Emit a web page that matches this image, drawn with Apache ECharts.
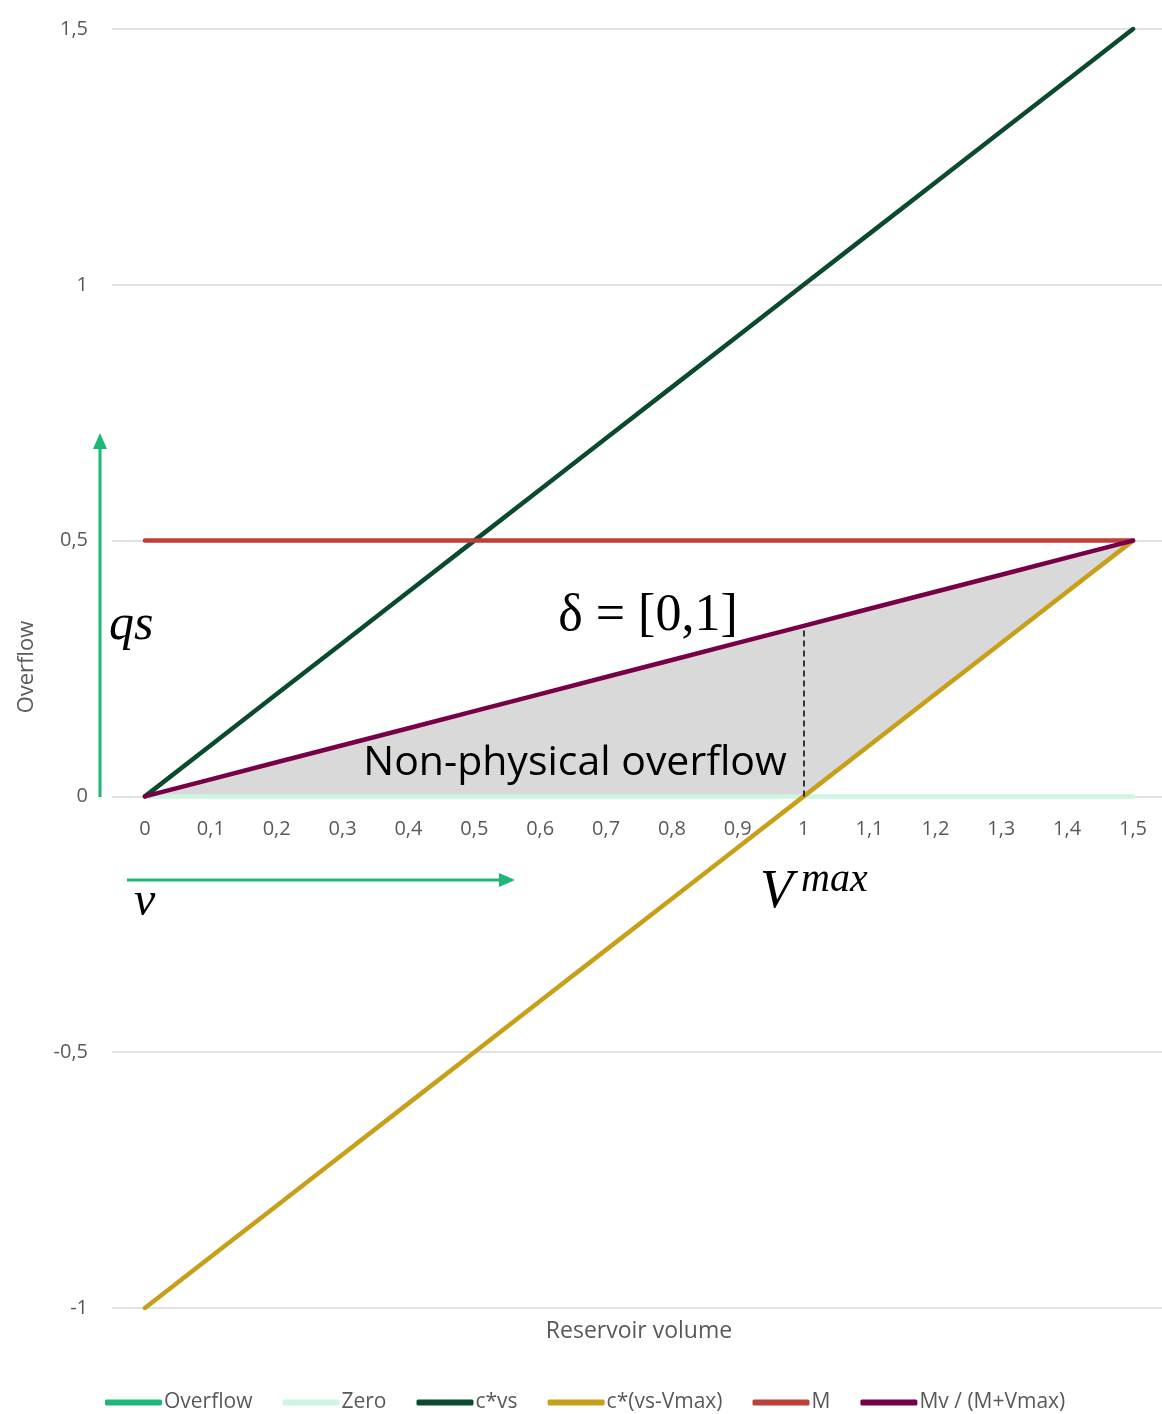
<!DOCTYPE html>
<html>
<head>
<meta charset="utf-8">
<script src="https://cdn.jsdelivr.net/npm/echarts@6/dist/echarts.min.js"></script>
<style>
  html, body { margin: 0; padding: 0; background: #fff; }
  #chart { width: 1162px; height: 1414px; }
</style>
</head>
<body>
<div id="chart"></div>
<script>
// Reservoir volume (x values, also the x tick labels)
const volumes = [0,0.1,0.2,0.3,0.4,0.5,0.6,0.7,0.8,0.9,1,1.1,1.2,1.3,1.4,1.5];

// Series values
const overflow = [];
const zero = [0,0,0,0,0,0,0,0,0,0,0,0,0,0,0,0];
const cVs = [0,0.1,0.2,0.3,0.4,0.5,0.6,0.7,0.8,0.9,1,1.1,1.2,1.3,1.4,1.5];
const cVsMinusVmax = [-1,-0.9,-0.8,-0.7,-0.6,-0.5,-0.4,-0.3,-0.2,-0.1,0,0.1,0.2,0.3,0.4,0.5];
const mConst = [0.5,0.5,0.5,0.5,0.5,0.5,0.5,0.5,0.5,0.5,0.5,0.5,0.5,0.5,0.5,0.5];
const mvRatio = [0,0.0333,0.0667,0.1,0.1333,0.1667,0.2,0.2333,0.2667,0.3,0.3333,0.3667,0.4,0.4333,0.4667,0.5];

// Lower edge of the shaded non-physical region: max(0, c*(vs-Vmax))
const shadeBase = [0,0,0,0,0,0,0,0,0,0,0,0.1,0.2,0.3,0.4,0.5];

// Y axis ticks
const yMin = -1, yMax = 1.5, yStep = 0.5;

const C = {
  overflow: '#1cb877',
  zero: '#cdf5e1',
  cvs: '#0b4a2c',
  gold: '#c89f18',
  m: '#bd3f3a',
  mv: '#780049',
  grid: '#d9d9d9',
  text: '#595959'
};
const sans = '"Open Sans", Lato, sans-serif';
const serif = '"Liberation Serif", "DejaVu Serif", serif';
const comma = v => String(+v.toFixed(2)).replace('.', ',');

const pairs = arr => volumes.map((x, i) => [x, arr[i]]);

const lineSeries = (name, data, color, z) => ({
  name, type: 'line', data: pairs(data), symbol: 'none', z,
  lineStyle: { color, width: 4.5, cap: 'round', join: 'round' },
  itemStyle: { color },
  emphasis: { disabled: true }
});

const chart = echarts.init(document.getElementById('chart'), null, { renderer: 'canvas' });

// plot area: y from -1 (bottom) to 1.5 (top); the x labels sit under the zero line
const gridTop = 29, gridBottom = 106, plotH = 1414 - gridTop - gridBottom;
const zeroOffset = -Math.round(plotH * (0 - yMin) / (yMax - yMin));

chart.setOption({
  animation: false,
  backgroundColor: '#fff',
  grid: { left: 112, right: 0, top: gridTop, bottom: gridBottom, containLabel: false },
  xAxis: {
    type: 'value',
    // half a step of padding on the left, the plot runs on to the right edge
    min: -0.05, max: 1.544,
    offset: zeroOffset,
    axisLine: { show: false, onZero: false },
    axisTick: { show: false },
    axisLabel: {
      color: C.text, fontSize: 20, fontFamily: sans, margin: 23,
      customValues: volumes, formatter: comma
    },
    splitLine: { show: false }
  },
  yAxis: {
    type: 'value',
    min: yMin, max: yMax, interval: yStep,
    axisLine: { show: false },
    axisTick: { show: false },
    axisLabel: { color: C.text, fontSize: 20, fontFamily: sans, margin: 24, formatter: comma },
    splitLine: { lineStyle: { color: C.grid, width: 1.5 } }
  },
  legend: {
    data: ['Overflow', 'Zero', 'c*vs', 'c*(vs-Vmax)', 'M', 'Mv / (M+Vmax)'],
    left: 100, top: 1387,
    itemWidth: 57, itemHeight: 6, itemGap: 30,
    icon: 'roundRect',
    textStyle: { color: C.text, fontSize: 21, fontFamily: sans, padding: [0, 0, 0, -3] },
    selectedMode: false
  },
  graphic: [
    // axis titles
    { type: 'text', x: 27, y: 667, rotation: Math.PI / 2,
      style: { text: 'Overflow', fill: C.text, font: '22px ' + sans, align: 'center', verticalAlign: 'middle' } },
    { type: 'text', x: 639, y: 1331,
      style: { text: 'Reservoir volume', fill: C.text, font: '23px ' + sans, align: 'center', verticalAlign: 'middle' } },
    // vertical qs arrow
    { type: 'line', shape: { x1: 100, y1: 797, x2: 100, y2: 446 }, style: { stroke: C.overflow, lineWidth: 3 } },
    { type: 'polygon', shape: { points: [[100, 433], [93, 449], [107, 449]] }, style: { fill: C.overflow } },
    // horizontal v arrow
    { type: 'line', shape: { x1: 127, y1: 880, x2: 503, y2: 880 }, style: { stroke: C.overflow, lineWidth: 3 } },
    { type: 'polygon', shape: { points: [[515, 880], [499, 873], [499, 887]] }, style: { fill: C.overflow } },
    // annotations
    { type: 'text', x: 109, y: 626, z: 10,
      style: { text: 'qs', fill: '#000', font: 'italic 50px ' + serif, verticalAlign: 'middle' } },
    { type: 'text', x: 648, y: 616, z: 10,
      style: { text: 'δ = [0,1]', fill: '#000', font: '52px ' + serif, align: 'center', verticalAlign: 'middle' } },
    { type: 'text', x: 575, y: 763, z: 10,
      style: { text: 'Non-physical overflow', fill: '#000', font: '41px ' + sans, align: 'center', verticalAlign: 'middle' } },
    { type: 'text', x: 134, y: 902, z: 10,
      style: { text: 'v', fill: '#000', font: 'italic 48px ' + serif, verticalAlign: 'middle' } },
    { type: 'text', x: 760, y: 893, z: 10,
      style: { text: 'V', fill: '#000', font: 'italic 54px ' + serif, verticalAlign: 'middle' } },
    { type: 'text', x: 801, y: 880, z: 10,
      style: { text: 'max', fill: '#000', font: 'italic 40px ' + serif, verticalAlign: 'middle' } }
  ],
  series: [
    // shaded non-physical region between max(0, c*(vs-Vmax)) and Mv/(M+Vmax)
    {
      name: 'shade', type: 'custom', z: 1, silent: true,
      data: [[0, 0]],
      renderItem: (params, api) => {
        const upper = volumes.map((x, i) => api.coord([x, mvRatio[i]]));
        const lower = volumes.map((x, i) => api.coord([x, shadeBase[i]])).reverse();
        return {
          type: 'polygon',
          shape: { points: upper.concat(lower) },
          style: { fill: '#d9d9d9', stroke: '#fff', lineWidth: 3, lineJoin: 'round' }
        };
      }
    },
    lineSeries('Overflow', overflow, C.overflow, 2),
    lineSeries('Zero', zero, C.zero, 2),
    lineSeries('c*vs', cVs, C.cvs, 3),
    lineSeries('c*(vs-Vmax)', cVsMinusVmax, C.gold, 3),
    lineSeries('M', mConst, C.m, 3),
    Object.assign(lineSeries('Mv / (M+Vmax)', mvRatio, C.mv, 4), {
      markLine: {
        symbol: 'none', silent: true, label: { show: false },
        lineStyle: { color: '#000', type: [6, 4], width: 1.5 },
        data: [[{ coord: [volumes[10], 0] }, { coord: [volumes[10], mvRatio[10]] }]]
      }
    })
  ]
});
</script>
</body>
</html>
